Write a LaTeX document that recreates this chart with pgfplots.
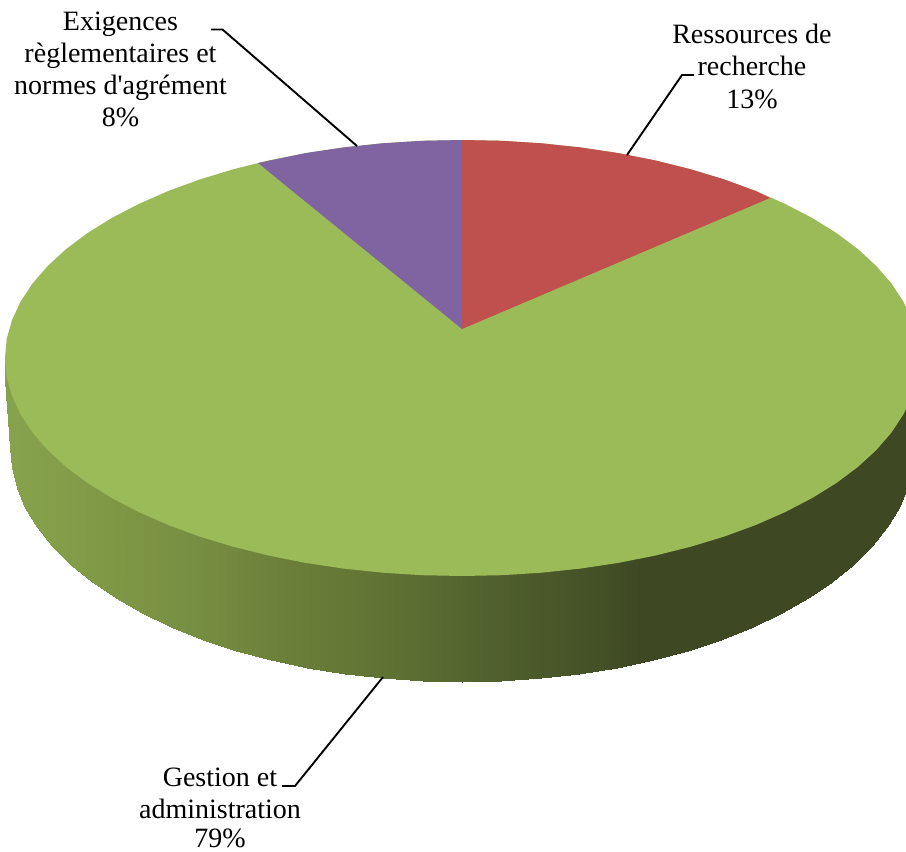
\documentclass[border=0pt]{standalone}
\usepackage{fontspec}
\newfontfamily\lab{Liberation Serif}
\usepackage{pgfplots}
\pgfplotsset{compat=1.18}
\definecolor{pieRed}{HTML}{C0504D}
\definecolor{pieGreen}{HTML}{9BBB59}
\definecolor{piePurple}{HTML}{8064A2}
\tikzset{lbl/.style={font={\lab\fontsize{28}{32}\selectfont}, inner sep=0pt, text=black, anchor=base}}
\begin{document}
\begin{tikzpicture}
\begin{axis}[
  scale only axis, width=906pt, height=852pt,
  at={(0,0)}, anchor=south west,
  xmin=0, xmax=906, ymin=0, ymax=852, y dir=reverse,
  hide axis, clip=true,
  colormap={sidecm}{
    rgb255(0pt)=(136,163,78);
    rgb255(100pt)=(128,153,70);
    rgb255(200pt)=(118,142,65);
    rgb255(280pt)=(108,128,58);
    rgb255(383pt)=(96,115,52);
    rgb255(500pt)=(80,95,45);
    rgb255(600pt)=(68,80,38);
    rgb255(640pt)=(62,73,36);
    rgb255(906pt)=(62,73,36)
  },
  point meta min=0, point meta max=906,
]
% pie side
\addplot[surf, shader=interp, mesh/rows=2, point meta=x] table[x=x, y=y] {
x y
5 360
10 360
11.7 360
16.9 360
25.4 360
37.3 360
52.4 360
70.6 360
91.7 360
115.8 360
142.4 360
171.5 360
202.7 360
236 360
271 360
307.4 360
345 360
383.5 360
422.6 360
462 360
501.4 360
540.5 360
579 360
616.6 360
653 360
688 360
721.3 360
752.5 360
781.6 360
808.2 360
832.3 360
853.4 360
871.6 360
886.7 360
898.6 360
907.1 360
912.3 360
914 360
5 380
10 447
11.7 467.5
16.9 487.8
25.4 507.8
37.3 527.4
52.4 546.3
70.6 564.5
91.7 581.8
115.8 598.1
142.4 613.2
171.5 627
202.7 639.5
236 650.5
271 660
307.4 667.8
345 674
383.5 678.4
422.6 681.1
462 682
501.4 681.1
540.5 678.4
579 674
616.6 667.8
653 660
688 650.5
721.3 639.5
752.5 627
781.6 613.2
808.2 598.1
832.3 581.8
853.4 564.5
871.6 546.3
886.7 527.4
898.6 507.8
907.1 487.8
912.3 467.5
914 447
};
% Gestion et administration 79%: whole top ellipse
\addplot[draw=none, fill=pieGreen] coordinates {
(919,358)(917.3,339)(912,320.1)(903.4,301.6)(891.4,283.4)(876.2,265.9)(857.8,249)(836.4,233)(812.1,217.9)(785.1,203.9)(755.8,191)(724.1,179.4)(690.5,169.2)(655.1,160.4)(618.3,153.1)(580.3,147.4)(541.4,143.3)(501.8,140.8)(462,140)
(422.2,140.8)(382.6,143.3)(343.7,147.4)(305.7,153.1)(268.9,160.4)(233.5,169.2)(199.9,179.4)(168.2,191)(138.9,203.9)(111.9,217.9)(87.6,233)(66.2,249)(47.8,265.9)(32.6,283.4)(20.6,301.6)(12,320.1)(6.7,339)(5,358)
(6.7,377)(12,395.9)(20.6,414.4)(32.6,432.6)(47.8,450.1)(66.2,467)(87.6,483)(111.9,498.1)(138.9,512.1)(168.2,525)(199.9,536.6)(233.5,546.8)(268.9,555.6)(305.7,562.9)(343.7,568.6)(382.6,572.7)(422.2,575.2)(462,576)
(501.8,575.2)(541.4,572.7)(580.3,568.6)(618.3,562.9)(655.1,555.6)(690.5,546.8)(724.1,536.6)(755.8,525)(785.1,512.1)(812.1,498.1)(836.4,483)(857.8,467)(876.2,450.1)(891.4,432.6)(903.4,414.4)(912,395.9)(917.3,377)(919,358)
} -- cycle;
% Ressources de recherche 13%
\addplot[draw=none, fill=pieRed] coordinates {
(462,329)(462,140)(501.8,140.8)(541.4,143.3)(580.3,147.4)(618.3,153.1)(655.1,160.4)(690.5,169.2)(724.1,179.4)(755.8,191)(770,198)
} -- cycle;
% Exigences 8%
\addplot[draw=none, fill=piePurple] coordinates {
(462,329)(462,140)(422.2,140.8)(382.6,143.3)(343.7,147.4)(305.7,153.1)(258,163)
} -- cycle;
% leader lines
\addplot[black, line width=1.9pt, line join=miter] coordinates {(211,29.5)(222.5,29.5)(357,146)};
\addplot[black, line width=1.9pt, line join=miter] coordinates {(694,75)(682,75)(627,155)};
\addplot[black, line width=1.9pt, line join=miter] coordinates {(282,786)(295,786)(383,677)};
% labels
\node[lbl] at (axis cs:120.5,30) {Exigences};
\node[lbl] at (axis cs:120.5,62) {règlementaires et};
\node[lbl] at (axis cs:120.5,94) {normes d'agrément};
\node[lbl] at (axis cs:120.5,126.5) {8\%};
\node[lbl] at (axis cs:752,43) {Ressources de};
\node[lbl] at (axis cs:752,75) {recherche};
\node[lbl] at (axis cs:752,108) {13\%};
\node[lbl] at (axis cs:220,786) {Gestion et};
\node[lbl] at (axis cs:220,818) {administration};
\node[lbl] at (axis cs:220,847) {79\%};
\end{axis}
\pgfresetboundingbox
\useasboundingbox (0,0) rectangle (906pt,852pt);
\end{tikzpicture}
\end{document}
